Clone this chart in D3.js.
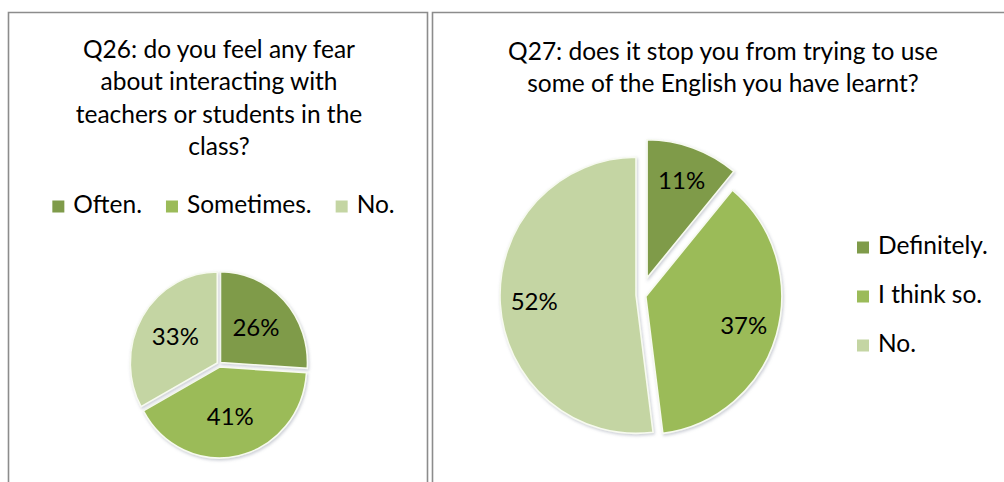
<!DOCTYPE html>
<html lang="en">
<head>
    <meta charset="UTF-8">
    <title>Q26 / Q27</title>
    <script src="https://cdn.jsdelivr.net/npm/d3@7/dist/d3.min.js"></script>
    <style>
        body { margin: 0; background: #fff; }
        text { font-family: Lato, "Open Sans", sans-serif; fill: #000; }
    </style>
</head>
<body>
<svg id="main-svg" width="1004" height="482" xmlns="http://www.w3.org/2000/svg"></svg>

<script>
    'use strict';
    /* data */
    const q26Title = ["Q26: do you feel any fear", "about interacting with", "teachers or students in the", "class?"];
    const q26Labels = ["Often.", "Sometimes.", "No."];
    const q26Values = [26, 41, 33];
    const q27Title = ["Q27: does it stop you from trying to use", "some of the English you have learnt?"];
    const q27Labels = ["Definitely.", "I think so.", "No."];
    const q27Values = [11, 37, 52];
    const sliceColors = ["#7f9b4a", "#9bbb59", "#c4d5a3"];

    const fontSize = '24.5px';
    const svg = d3.select('#main-svg');

    // soft shadow under the slices
    const defs = svg.append('defs');
    defs.append('filter').attr('id', 'shadow')
        .attr('x', '-10%').attr('y', '-10%').attr('width', '120%').attr('height', '120%')
        .append('feDropShadow')
        .attr('dx', 1).attr('dy', 1.5).attr('stdDeviation', 1.5)
        .attr('flood-color', '#8a8fa0').attr('flood-opacity', 0.45);

    // panel frames (the cells of the page table)
    svg.append('path')
        .attr('d', 'M8.5,490 V12.5 H427.5 V490')
        .attr('fill', 'none').attr('stroke', '#8c8c8c').attr('stroke-width', 1.6);
    svg.append('path')
        .attr('d', 'M432.5,490 V12.5 H1010')
        .attr('fill', 'none').attr('stroke', '#8c8c8c').attr('stroke-width', 1.6);

    function drawTitle(lines, cx, y0, lh) {
        svg.append('g').selectAll('text')
            .data(lines).join('text')
            .attr('x', cx)
            .attr('y', (d, i) => y0 + i * lh)
            .attr('text-anchor', 'middle')
            .style('font-size', fontSize)
            .text(d => d);
    }

    function drawPie(cfg) {
        const arcs = d3.pie().sort(null).value(d => d)(cfg.values);
        const arc = d3.arc().innerRadius(0).outerRadius(cfg.r);
        const labelArc = d3.arc().innerRadius(cfg.r * cfg.labelAt).outerRadius(cfg.r * cfg.labelAt);
        const shift = (d, i) => {
            const a = (d.startAngle + d.endAngle) / 2;
            return [Math.sin(a) * cfg.explode[i], -Math.cos(a) * cfg.explode[i] * cfg.ky];
        };

        const g = svg.append('g').attr('transform', `translate(${cfg.cx},${cfg.cy})`);
        g.selectAll('path')
            .data(arcs).join('path')
            .attr('transform', (d, i) => {
                const s = shift(d, i);
                return `translate(${s[0]},${s[1]}) scale(1,${cfg.ky})`;
            })
            .attr('d', arc)
            .attr('fill', (d, i) => sliceColors[i])
            .attr('stroke', '#f7faf0')
            .attr('stroke-width', 1.6)
            .attr('vector-effect', 'non-scaling-stroke')
            .attr('filter', 'url(#shadow)');

        g.selectAll('text')
            .data(arcs).join('text')
            .attr('x', (d, i) => labelArc.centroid(d)[0] + shift(d, i)[0])
            .attr('y', (d, i) => labelArc.centroid(d)[1] * cfg.ky + shift(d, i)[1])
            .attr('dy', '0.35em')
            .attr('text-anchor', 'middle')
            .style('font-size', '24px')
            .text(d => d.data + '%');
    }

    /* ---- Q26 ---- */
    drawTitle(q26Title, 219, 58, 32.3);

    // horizontal legend, centred under the title
    const leg26 = svg.append('g');
    const items26 = leg26.selectAll('g').data(q26Labels).join('g');
    items26.append('rect')
        .attr('width', 12).attr('height', 12)
        .attr('y', 200.5)
        .attr('fill', (d, i) => sliceColors[i]);
    items26.append('text')
        .attr('x', 21).attr('y', 213)
        .style('font-size', fontSize)
        .text(d => d);
    let lx = 0;
    items26.each(function () {
        const w = 21 + this.querySelector('text').getComputedTextLength();
        d3.select(this).attr('transform', `translate(${lx},0)`);
        lx += w + 24;
    });
    lx -= 24;
    leg26.attr('transform', `translate(${223.5 - lx / 2},0)`);

    drawPie({values: q26Values, cx: 219, cy: 364, r: 87, ky: 1.045,
        explode: [2, 3, 2], labelAt: 0.56});

    /* ---- Q27 ---- */
    drawTitle(q27Title, 723, 60, 32.3);

    drawPie({values: q27Values, cx: 641, cy: 295, r: 136, ky: 1.015,
        explode: [18, 5, 5], labelAt: 0.75});

    const leg27 = svg.append('g').selectAll('g')
        .data(q27Labels).join('g')
        .attr('transform', (d, i) => `translate(857,${254 + i * 49})`);
    leg27.append('rect')
        .attr('width', 12).attr('height', 12).attr('y', -12.5)
        .attr('fill', (d, i) => sliceColors[i]);
    leg27.append('text')
        .attr('x', 21)
        .style('font-size', fontSize)
        .text(d => d);
</script>
</body>
</html>
